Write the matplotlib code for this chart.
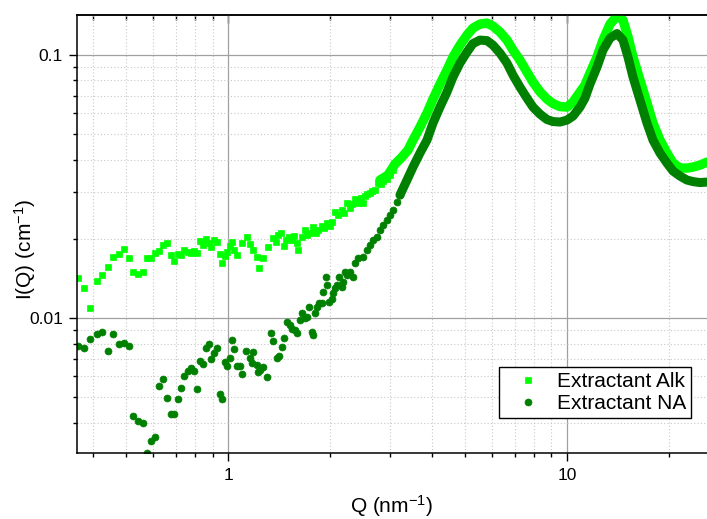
import matplotlib
matplotlib.use('Agg')
import matplotlib.pyplot as plt
from matplotlib.ticker import FuncFormatter, NullFormatter

plt.rcParams['font.family'] = ['Liberation Sans', 'DejaVu Sans']
plt.rcParams['mathtext.fontset'] = 'custom'
plt.rcParams['mathtext.rm'] = 'Liberation Sans'
plt.rcParams['mathtext.default'] = 'regular'

# low Q points (shared Q grid), nm^-1
q_low = [0.3606, 0.3750, 0.3914, 0.4088, 0.4246, 0.4413, 0.4575, 0.4757, 0.4922, 0.5080,
         0.5243, 0.5412, 0.5588, 0.5754, 0.5925, 0.6088, 0.6256, 0.6428, 0.6592, 0.6760,
         0.6913, 0.7087, 0.7250, 0.7412, 0.7587, 0.7762, 0.7921, 0.8083, 0.8249, 0.8419,
         0.8595, 0.8752, 0.8909, 0.9073, 0.9262, 0.9432, 0.9581, 0.9759, 0.9932, 1.0095,
         1.0254, 1.0416]
alk_low = [0.01423, 0.01297, 0.01094, 0.01382, 0.01457, 0.01561, 0.01709, 0.01746, 0.01829, 0.01686,
           0.01491, 0.01473, 0.01499, 0.01694, 0.01690, 0.01770, 0.01792, 0.01888, 0.01921, 0.01730,
           0.01651, 0.01746, 0.01740, 0.01817, 0.01776, 0.01761, 0.01801, 0.01761, 0.01966, 0.01893,
           0.02000, 0.01932, 0.01866, 0.01978, 0.01944, 0.01750, 0.01614, 0.01720, 0.01781, 0.01873,
           0.01940, 0.01813]
na_low = [0.00783, 0.00767, 0.00832, 0.00869, 0.00885, 0.00751, 0.00867, 0.00799, 0.00806, 0.00783,
          0.00425, 0.00405, 0.00398, 0.00306, 0.00342, 0.00352, 0.00552, 0.00588, 0.00498, 0.00432,
          0.00433, 0.00494, 0.00541, 0.00602, 0.00631, 0.00646, 0.00631, 0.00536, 0.00685, 0.00667,
          0.00769, 0.00799, 0.00699, 0.00738, 0.00771, 0.00514, 0.00494, 0.00681, 0.00659, 0.00705,
          0.00823, 0.00763]

# Extractant Alk, 1 - 3 nm^-1
q_alk_mid = [1.0588, 1.0953, 1.1333, 1.1590, 1.1852, 1.2132, 1.2346, 1.2686, 1.3125, 1.3524,
             1.3829, 1.4048, 1.4280, 1.4605, 1.4853, 1.5140, 1.5390, 1.5631, 1.5922, 1.6095,
             1.6470, 1.6846, 1.7132, 1.7426, 1.7824, 1.8151, 1.8438, 1.8871, 1.9169, 1.9521,
             1.9967, 2.0198, 2.0654, 2.1125, 2.1617, 2.1958, 2.2366, 2.2872, 2.3265, 2.3665,
             2.4200, 2.4650, 2.5038, 2.5328, 2.5763, 2.6205, 2.6656, 2.7108, 2.7727, 2.8235,
             2.8681, 2.9356, 3.0020, 3.0705, 3.1061, 3.1762]
alk_mid = [0.01735, 0.01921, 0.02025, 0.01910, 0.01813, 0.01709, 0.01544, 0.01686, 0.01856, 0.02007,
           0.01944, 0.02066, 0.02098, 0.01877, 0.01978, 0.02025, 0.01978, 0.02048, 0.01921, 0.01813,
           0.02025, 0.02159, 0.02066, 0.02098, 0.02211, 0.02103, 0.02159, 0.02236, 0.02197, 0.02289,
           0.02236, 0.02321, 0.02533, 0.02461, 0.02571, 0.02504, 0.02727, 0.02609, 0.02710, 0.02824,
           0.02741, 0.02856, 0.02727, 0.02906, 0.02958, 0.02976, 0.03036, 0.03063, 0.03247, 0.03227,
           0.03322, 0.03363, 0.03492, 0.03648, 0.03868, 0.03982]

# Extractant NA, 1 - 3.2 nm^-1
q_na_mid = [1.0588, 1.0828, 1.0953, 1.1279, 1.1590, 1.1723, 1.1852, 1.2132, 1.2262, 1.2405,
            1.2686, 1.2984, 1.3340, 1.3579, 1.3896, 1.4145, 1.4435, 1.4605, 1.4935, 1.5213,
            1.5390, 1.5736, 1.5984, 1.6283, 1.6470, 1.6846, 1.7041, 1.7310, 1.7627, 1.7749,
            1.8030, 1.8315, 1.8566, 1.8871, 1.9077, 1.9431, 1.9521, 1.9872, 2.0198, 2.0417,
            2.0654, 2.0893, 2.1268, 2.1617, 2.1852, 2.2110, 2.2366, 2.2872, 2.3297, 2.3665,
            2.4200, 2.5038, 2.5621, 2.6205, 2.6798, 2.7423, 2.8050, 2.8681, 2.9356, 3.0020,
            3.0705, 3.1418, 3.2130]
na_mid = [0.00659, 0.00659, 0.00611, 0.00749, 0.00703, 0.00673, 0.00745, 0.00663, 0.00625, 0.00635,
          0.00653, 0.00598, 0.00875, 0.00820, 0.00703, 0.00717, 0.00778, 0.00837, 0.00968, 0.00941,
          0.00906, 0.00900, 0.00879, 0.00983, 0.01042, 0.00997, 0.01011, 0.01104, 0.00887, 0.00862,
          0.01042, 0.01098, 0.01137, 0.01143, 0.01259, 0.01428, 0.01335, 0.01153, 0.01178, 0.01241,
          0.01297, 0.01335, 0.01435, 0.01315, 0.01374, 0.01499, 0.01457, 0.01499, 0.01435, 0.01614,
          0.01686, 0.01709, 0.01813, 0.01893, 0.01978, 0.02036, 0.02159, 0.02256, 0.02356, 0.02461,
          0.02571, 0.02765, 0.02932]

# high Q, points so dense they form a band
q_alk_hi = [2.805, 2.9615, 3.1061, 3.2570, 3.3931, 3.5102, 3.6813, 3.8606, 4.0218, 4.2170,
            4.4222, 4.6061, 4.8317, 5.0672, 5.2782, 5.5348, 5.8042, 6.0456, 6.3404, 6.6497,
            6.9264, 7.2637, 7.6181, 7.9353, 8.3225, 8.7297, 9.0926, 9.5345, 10.0, 10.416,
            10.924, 11.300, 11.692, 12.262, 12.772, 13.397, 14.048, 14.632, 15.138, 15.662,
            16.424, 17.225, 17.941, 18.815, 19.731, 20.559, 21.561, 22.613, 23.553, 24.700,
            25.905]
alk_hi = [0.03343, 0.03492, 0.03845, 0.04088, 0.04346, 0.04742, 0.05313, 0.06004, 0.06788, 0.07739,
          0.08747, 0.09802, 0.1088, 0.1188, 0.1263, 0.1308, 0.1319, 0.1285, 0.1220, 0.1137,
          0.1042, 0.0954, 0.08596, 0.07875, 0.07235, 0.06788, 0.06526, 0.06357, 0.06330, 0.06612,
          0.07216, 0.07672, 0.08520, 0.09802, 0.1137, 0.1308, 0.1403, 0.1354, 0.1168, 0.09802,
          0.0801, 0.06554, 0.05502, 0.04742, 0.04234, 0.03879, 0.03713, 0.03713, 0.03745, 0.03811,
          0.03913]
q_na_hi = [3.2130, 3.3698, 3.5102, 3.6813, 3.8606, 4.0218, 4.2170, 4.4222, 4.6061, 4.8317,
           5.0672, 5.2782, 5.5348, 5.8042, 6.0456, 6.3404, 6.6497, 6.9264, 7.2637, 7.6181,
           7.9353, 8.3225, 8.7297, 9.0926, 9.5345, 10.0, 10.416, 10.924, 11.300, 11.692,
           12.262, 12.772, 13.397, 14.048, 14.632, 15.138, 15.662, 16.424, 17.225, 17.941,
           18.815, 19.731, 20.559, 21.561, 22.613, 23.553, 24.700, 25.905]
na_hi = [0.02932, 0.03343, 0.03745, 0.04234, 0.04742, 0.05502, 0.06330, 0.07216, 0.08228, 0.09300,
         0.1024, 0.1103, 0.1137, 0.1132, 0.1088, 0.1015, 0.0930, 0.08373, 0.07539, 0.06846,
         0.06330, 0.05952, 0.05675, 0.05577, 0.05553, 0.05649, 0.05850, 0.06330, 0.06846, 0.07739,
         0.08981, 0.1042, 0.1157, 0.1204, 0.1137, 0.09802, 0.08228, 0.06730, 0.05502, 0.04742,
         0.04234, 0.03879, 0.03617, 0.03461, 0.03343, 0.03299, 0.03271, 0.03285]

alk_color = '#00ff00'
na_color = '#008000'

fig = plt.figure(figsize=(7.07, 5.19), dpi=100)
ax = fig.add_axes([0.1085, 0.1277, 0.8915, 0.8440])
ax.set_xscale('log')
ax.set_yscale('log')

ms = 5.0
ax.plot(q_alk_hi, alk_hi, '-', color=alk_color, lw=6.8,
        solid_capstyle='round', solid_joinstyle='round')
h1, = ax.plot(q_low + q_alk_mid, alk_low + alk_mid, 's', ms=ms, mew=0.5,
              color=alk_color, label='Extractant Alk')
ax.plot(q_na_hi, na_hi, '-', color=na_color, lw=6.5,
        solid_capstyle='round', solid_joinstyle='round')
h2, = ax.plot(q_low + q_na_mid, na_low + na_mid, 'o', ms=ms, mew=0.5,
              color=na_color, label='Extractant NA')

ax.set_xlim(0.357, 25.9)
ax.set_ylim(0.00308, 0.142)

fmt = FuncFormatter(lambda v, p: f'{v:g}')
ax.xaxis.set_major_formatter(fmt)
ax.yaxis.set_major_formatter(fmt)
ax.xaxis.set_minor_formatter(NullFormatter())
ax.yaxis.set_minor_formatter(NullFormatter())

ax.set_axisbelow(True)
ax.grid(True, which='major', color='#a0a0a0', lw=0.9, ls='-')
ax.grid(True, which='minor', color='#c8c8c8', lw=0.8, ls=(0, (1, 2)))

for s in ['left', 'bottom', 'top']:
    ax.spines[s].set_linewidth(1.1)
ax.spines['right'].set_visible(False)

ax.tick_params(which='both', direction='out', top=False, right=False, width=1.0,
               labelsize=12.5, colors='black')
ax.tick_params(which='major', length=6)
ax.tick_params(which='minor', length=3.2)
ax.tick_params(axis='x', which='major', pad=5)
ax.tick_params(axis='y', which='major', pad=4)

top = ax.secondary_xaxis('top')
top.xaxis.set_major_formatter(NullFormatter())
top.xaxis.set_minor_formatter(NullFormatter())
top.tick_params(which='both', direction='in', width=1.0)
top.tick_params(which='major', length=6)
top.tick_params(which='minor', length=3.5)
top.spines['top'].set_linewidth(1.1)

ax.set_xlabel('Q (nm$^{-1}$)', fontsize=15)
ax.set_ylabel('I(Q) (cm$^{-1}$)', fontsize=15)
ax.xaxis.set_label_coords(0.5, -0.092)
ax.yaxis.set_label_coords(-0.062, 0.465)

leg = ax.legend(handles=[h1, h2], loc='lower right', bbox_to_anchor=(0.975, 0.079),
                borderaxespad=0, fontsize=15, frameon=True, fancybox=False,
                framealpha=1, edgecolor='black', borderpad=0.25, labelspacing=0.12,
                handlelength=2.2, handletextpad=0.3, markerscale=1.0)
leg.get_frame().set_linewidth(1.0)

fig.savefig('out.png', dpi=100)
